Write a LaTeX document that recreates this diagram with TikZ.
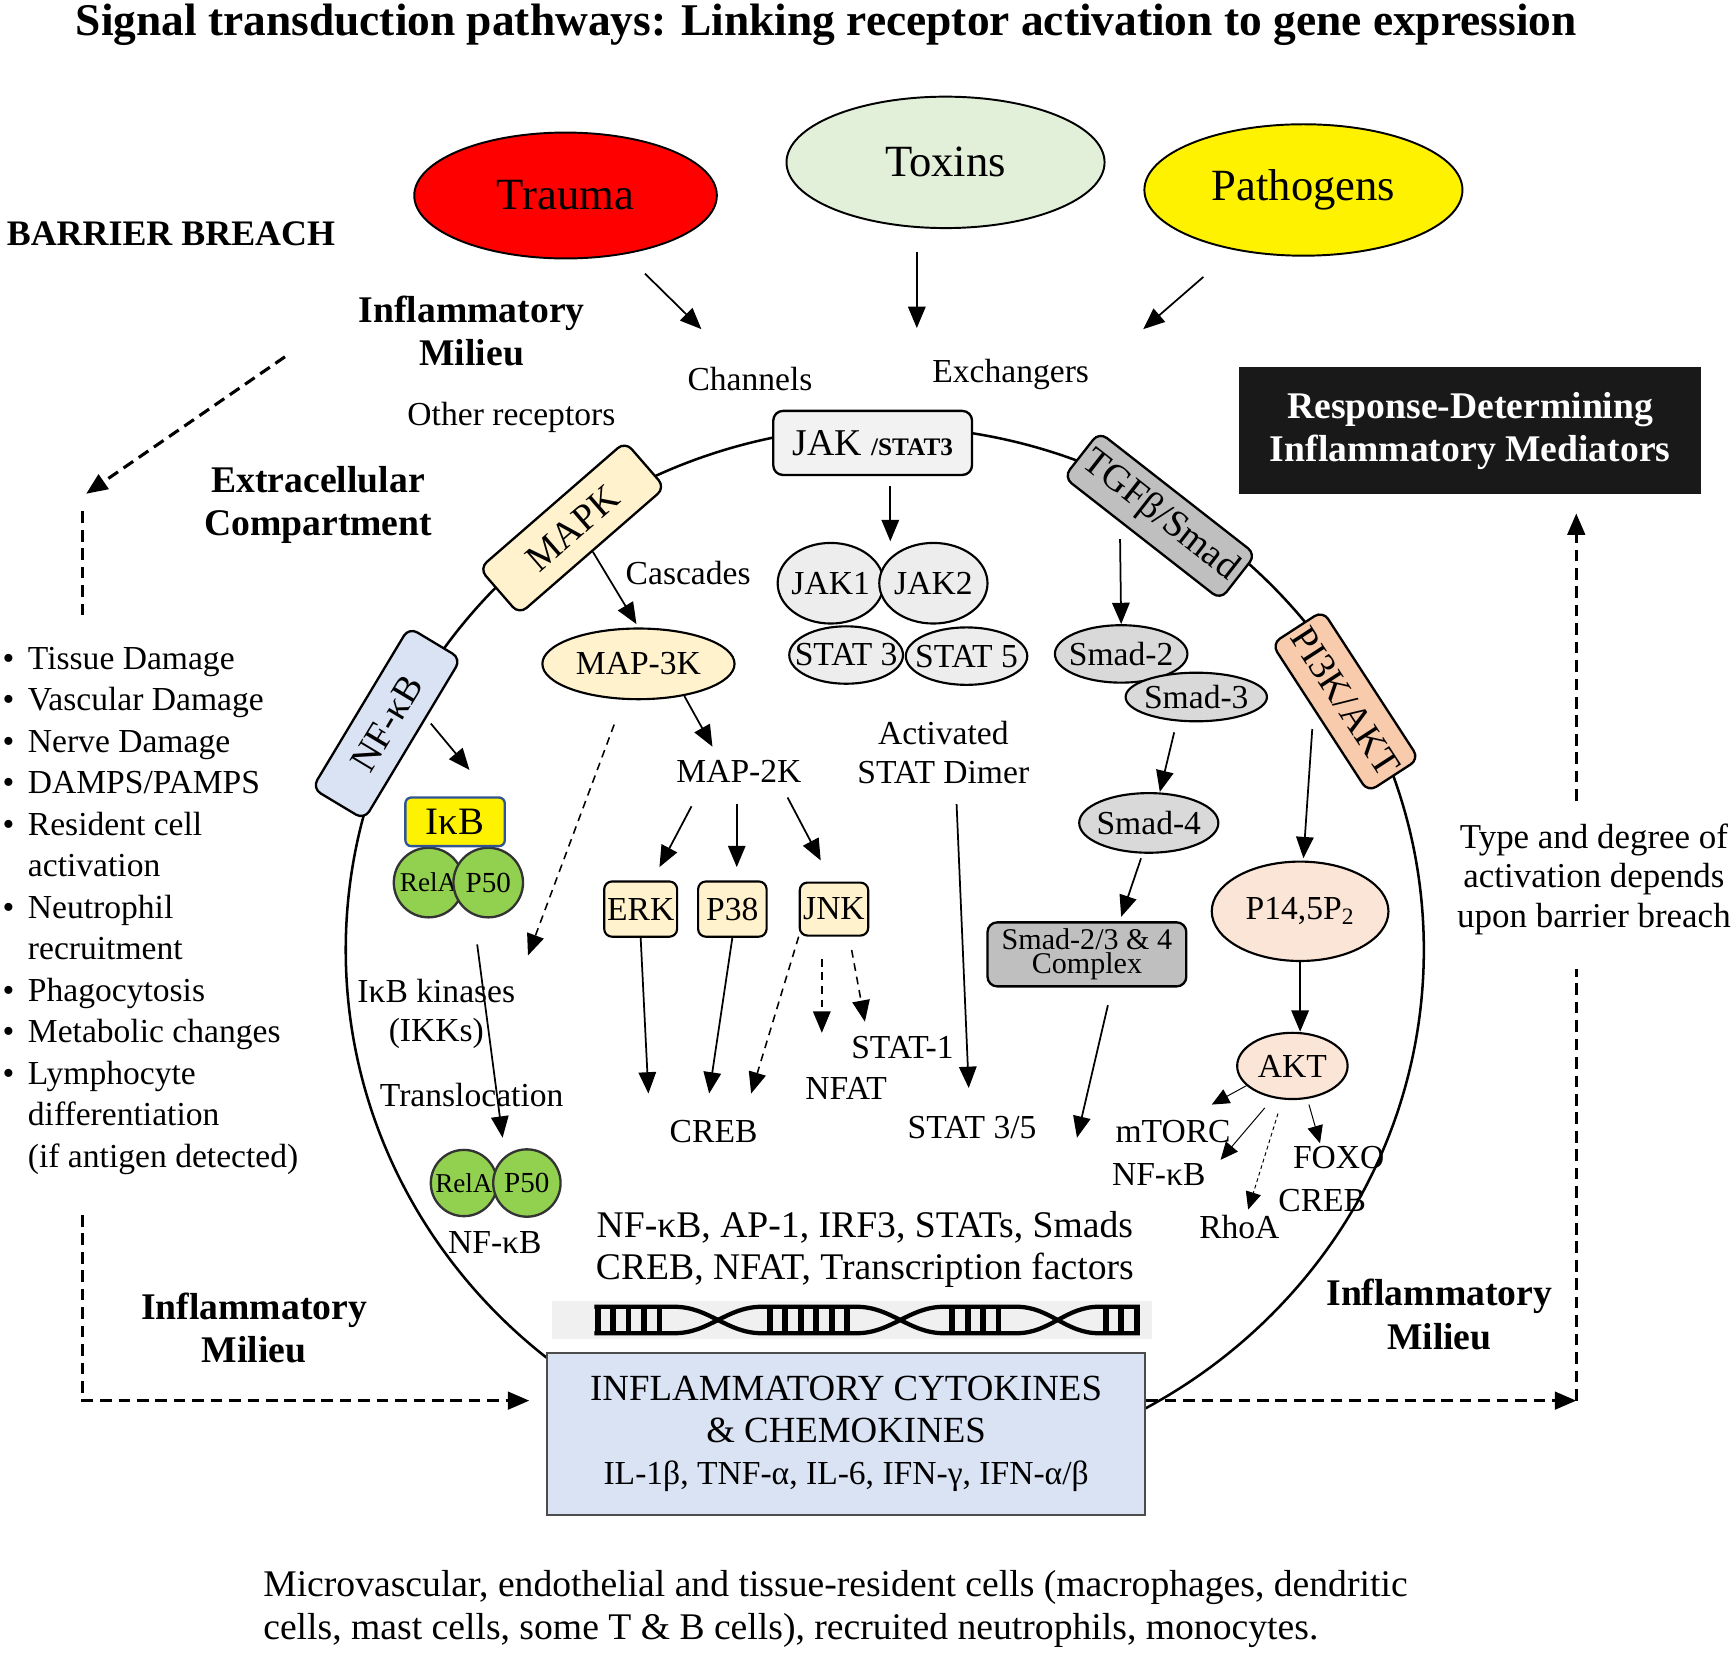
\documentclass[tikz,border=0pt]{standalone}
\usepackage{fontspec}
\setmainfont{Liberation Serif}
\usetikzlibrary{arrows.meta,shapes.geometric,positioning}
\definecolor{mapkcol}{HTML}{FFF2CC}
\definecolor{jakcol}{HTML}{F2F2F2}
\definecolor{statcol}{HTML}{EDEDED}
\definecolor{tgfcol}{HTML}{BFBFBF}
\definecolor{smadcol}{HTML}{D9D9D9}
\definecolor{pikcol}{HTML}{F8CBAD}
\definecolor{aktcol}{HTML}{FBE5D6}
\definecolor{nfkbcol}{HTML}{DAE3F3}
\definecolor{toxcol}{HTML}{E2EFD9}
\definecolor{relcol}{HTML}{92D050}
\definecolor{ikbline}{HTML}{2F5597}
\newcommand{\flatlbl}[1]{\makebox[0pt]{#1}}

\begin{document}
\begin{tikzpicture}[x=0.02cm, y=-0.02cm, >={Triangle[length=11pt,width=9pt]},
  every node/.style={font=\fontsize{17.3}{20}\selectfont},
  hdr/.style={font=\fontsize{19.4}{22.2}\selectfont\bfseries, align=center},
  stim/.style={ellipse, draw, line width=1pt, minimum width=5.76cm, minimum height=2.38cm, font=\fontsize{23}{26}\selectfont},
  recep/.style={draw, rounded corners=5pt, line width=1.2pt, minimum height=1.1cm, inner sep=2pt, font=\fontsize{19.5}{22}\selectfont},
  prot/.style={ellipse, draw, line width=1.1pt, inner sep=0pt},
  kin/.style={draw, rounded corners=4pt, line width=1.1pt, fill=mapkcol, minimum height=1cm, inner sep=1pt},
  sub/.style={circle, draw=black!80, line width=1.2pt, fill=relcol, minimum size=1.26cm, inner sep=0pt, font=\fontsize{14}{16}\selectfont},
  pw/.style={->, line width=0.9pt},
  dpw/.style={->, line width=0.8pt, dash pattern=on 4pt off 3pt},
  outer/.style={line width=1.6pt, dash pattern=on 6pt off 3.5pt},
  aktw/.style={->, line width=0.5pt, >={Triangle[length=9pt,width=8pt]}}]
\useasboundingbox (0,0) rectangle (1568,1496);

\node[anchor=base, inner sep=0pt, font=\fontsize{23.4}{26}\selectfont\bfseries] (title) at (748,32) {Signal transduction pathways: Linking receptor activation to gene expression};

% barrier breach
\node[stim, fill=red, minimum width=5.48cm, minimum height=2.28cm] (trauma) at (512,177) {Trauma};
\node[stim, fill=toxcol] (toxins) at (856,147) {Toxins};
\node[stim, fill=yellow] (pathogens) at (1180,172) {Pathogens};
\node[hdr, anchor=west, font=\fontsize{18.5}{21}\selectfont\bfseries] (breach) at (0,212) {BARRIER BREACH};
\node[hdr] (milTop) at (427,300) {Inflammatory\\Milieu};
\node[hdr] (extra) at (288,457) {Extracellular\\Compartment};
\node (chan) at (679,343) {Channels};
\node (exch) at (915,339) {Exchangers};
\node (other) at (463,378) {Other receptors};
\node[hdr, fill=black!90, text=white, minimum width=8.36cm, minimum height=2.3cm] (resp) at (1331,390) {Response-Determining\\Inflammatory Mediators};

\coordinate (chanIn) at (635,298);
\coordinate (toxIn) at (830,297);
\coordinate (exchIn) at (1035,298);
\draw[pw, shorten <=0.5cm] (trauma) -- (chanIn);
\draw[pw, shorten <=0.42cm] (toxins.south -| toxIn) -- (toxIn);
\draw[pw, shorten <=0.74cm] (pathogens) -- (exchIn);

% cell
\draw[line width=1.3pt] (801,860) ellipse [x radius=488, y radius=474];

% receptors on the membrane
\node[recep, fill=nfkbcol, rotate=59, minimum width=3.4cm] (nfkbR) at (350,655) {NF-κB};
\node[recep, fill=mapkcol, rotate=41, minimum width=3.5cm] (mapkR) at (518,478) {MAPK};
\node[recep, fill=jakcol, minimum width=3.6cm, minimum height=1.16cm] (jakR) at (790,401) {JAK {\fontsize{13}{15}\selectfont\bfseries /STAT3}};
\node[recep, fill=tgfcol, rotate=-38, minimum width=3.6cm, minimum height=1.04cm] (tgfR) at (1050,467) {TGFβ/Smad};
\node[recep, fill=pikcol, rotate=-57, minimum width=3.2cm] (pi3kR) at (1218,635) {PI3K/AKT};

% MAPK cascade
\node (casc) at (623,519) {Cascades};
\node[prot, fill=mapkcol, minimum width=3.48cm, minimum height=1.28cm] (map3k) at (578,601) {MAP-3K};
\node (map2k) at (669,698) {MAP-2K};
\node[kin, minimum width=1.32cm] (erk) at (580,823) {ERK};
\node[kin, minimum width=1.24cm] (p38) at (663,823) {P38};
\node[kin, minimum width=1.24cm, minimum height=0.96cm] (jnk) at (755,823) {JNK};
\node (creb) at (646,1024) {CREB};
\node (nfat) at (766,985) {NFAT};
\node (stat1) at (817,948) {STAT-1};

\coordinate (m2kIn) at (645,676);
\coordinate (m2kA) at (626,730); \coordinate (erkIn) at (597,785);
\coordinate (m2kB) at (667,728); \coordinate (p38In) at (667,785);
\coordinate (m2kC) at (713,722); \coordinate (jnkIn) at (743,779);
\coordinate (crebL) at (587,990); \coordinate (crebM) at (642,990); \coordinate (crebR) at (680,990);
\coordinate (jnkD1) at (744,868); \coordinate (nfatIn) at (744,935);
\coordinate (jnkD2) at (771,860); \coordinate (stat1In) at (783,925);
\draw[pw, shorten >=2pt] (mapkR.south) -- (map3k.north);
\draw[pw] (map3k.-35) -- (m2kIn);
\draw[pw] (m2kA) -- (erkIn);
\draw[pw] (m2kB) -- (p38In);
\draw[pw] (m2kC) -- (jnkIn);
\draw[pw] (erk.south) -- (crebL);
\draw[pw] (p38.south) -- (crebM);
\draw[dpw] (jnk.south west) -- (crebR);
\draw[dpw] (jnkD1) -- (nfatIn);
\draw[dpw] (jnkD2) -- (stat1In);

% JAK / STAT
\node[prot, fill=statcol, minimum width=1.92cm, minimum height=1.46cm] (jak1) at (752,528) {\flatlbl{JAK1}};
\node[prot, fill=statcol, minimum width=1.96cm, minimum height=1.46cm] (jak2) at (845,528) {\flatlbl{JAK2}};
\node[prot, fill=statcol, minimum width=2.06cm, minimum height=1.04cm] (stat3) at (766,593) {\flatlbl{STAT 3}};
\node[prot, fill=statcol, minimum width=2.2cm, minimum height=1.04cm] (stat5) at (875,594) {\flatlbl{STAT 5}};
\node[align=center] (dimer) at (854,681) {Activated\\STAT Dimer};
\node (stat35) at (880,1021) {STAT 3/5};
\coordinate (jakOut) at (806,440); \coordinate (jakIn) at (806,490);
\coordinate (dimOut) at (866,728); \coordinate (stat35In) at (877,985);
\draw[pw] (jakOut) -- (jakIn);
\draw[pw] (dimOut) -- (stat35In);

% TGF-beta / Smad
\node[prot, fill=smadcol, minimum width=2.4cm, minimum height=1.04cm] (smad2) at (1015,592) {\flatlbl{Smad-2}};
\node[prot, fill=smadcol, minimum width=2.56cm, minimum height=0.88cm] (smad3) at (1083,631) {\flatlbl{Smad-3}};
\node[prot, fill=smadcol, minimum width=2.52cm, minimum height=1.08cm] (smad4) at (1040,745) {\flatlbl{Smad-4}};
\node[draw, rounded corners=5pt, line width=1.2pt, fill=tgfcol, minimum width=3.6cm, minimum height=1.16cm, inner sep=0pt, align=center, font=\fontsize{15.5}{12.5}\selectfont] (cplx) at (984,864) {Smad-2/3 \& 4\\Complex};
\coordinate (tgfOut) at (1014,488);
\coordinate (s3Out) at (1063,663); \coordinate (smad4In) at (1050,717);
\coordinate (s4Out) at (1033,777); \coordinate (cplxIn) at (1015,830);
\coordinate (cplxOut) at (1003,910); \coordinate (cplxEnd) at (975,1030);
\draw[pw] (tgfOut) -- (smad2.north);
\draw[pw] (s3Out) -- (smad4In);
\draw[pw] (s4Out) -- (cplxIn);
\draw[pw] (cplxOut) -- (cplxEnd);

% PI3K / AKT
\node[prot, fill=aktcol, minimum width=3.2cm, minimum height=1.8cm] (pip2) at (1177,825) {P14,5P\textsubscript{2}};
\node[prot, fill=aktcol, minimum width=2cm, minimum height=1.2cm] (akt) at (1170,965) {AKT};
\node (mtorc) at (1062,1024) {mTORC};
\node (nfkbA) at (1049,1063) {NF-κB};
\node (foxo) at (1212,1048) {FOXO};
\node (crebA) at (1197,1087) {CREB};
\node (rhoa) at (1122,1111) {RhoA};
\coordinate (pikOut) at (1188,660); \coordinate (pipIn) at (1180,777);
\coordinate (aktA) at (1130,982); \coordinate (mtorcIn) at (1097,1000);
\coordinate (aktB) at (1145,1003); \coordinate (nfkbAIn) at (1105,1050);
\coordinate (aktC) at (1157,1008); \coordinate (rhoaIn) at (1130,1095);
\coordinate (aktD) at (1185,1000); \coordinate (foxoIn) at (1195,1035);
\draw[pw] (pikOut) -- (pipIn);
\draw[pw] (pip2.south) -- (pip2.south |- akt.north);
\draw[aktw] (aktA) -- (mtorcIn);
\draw[aktw] (aktB) -- (nfkbAIn);
\draw[aktw, dash pattern=on 2pt off 1.5pt] (aktC) -- (rhoaIn);
\draw[aktw] (aktD) -- (foxoIn);

% NF-kB
\node[sub] (relaA) at (388,799) {\flatlbl{RelA}};
\node[sub, font=\fontsize{15}{17}\selectfont] (p50A) at (442,799) {\flatlbl{P50}};
\node[draw=ikbline, fill=yellow, line width=1.2pt, rounded corners=3pt, minimum width=1.8cm, minimum height=0.88cm, inner sep=0pt, font=\fontsize{20}{22}\selectfont] (ikb) at (412,744) {IκB};
\node[align=center] (ikk) at (395,918) {IκB kinases\\(IKKs)};
\node (transloc) at (427,991) {Translocation};
\node[sub, minimum size=1.2cm] (relaB) at (420,1071) {\flatlbl{RelA}};
\node[sub, minimum size=1.22cm, font=\fontsize{15}{17}\selectfont] (p50B) at (477,1071) {\flatlbl{P50}};
\node (nfkbB) at (448,1125) {NF-κB};
\coordinate (nfOut) at (390,655); \coordinate (ikbIn) at (425,697);
\coordinate (m3kOut) at (556,656); \coordinate (ikkIn) at (478,865);
\coordinate (relOut) at (432,855); \coordinate (relIn) at (455,1030);
\draw[pw] (nfOut) -- (ikbIn);
\draw[dpw] (m3kOut) -- (ikkIn);
\draw[pw] (relOut) -- (relIn);

% transcription and DNA
\node[align=center, font=\fontsize{19.4}{21.6}\selectfont] (tfs) at (783,1131) {NF-κB, AP-1, IRF3, STATs, Smads\\CREB, NFAT, Transcription factors};
\fill[black!6] (500,1178) rectangle (1043,1212);
\draw[line width=2.2pt] (538,1183) -- (610,1183) to[out=0,in=180] (690,1207) -- (775,1207) to[out=0,in=180] (855,1183) -- (920,1183) to[out=0,in=180] (995,1207) -- (1032,1207);
\draw[line width=2.2pt] (538,1207) -- (610,1207) to[out=0,in=180] (690,1183) -- (775,1183) to[out=0,in=180] (855,1207) -- (920,1207) to[out=0,in=180] (995,1183) -- (1032,1183);
\foreach \x in {541,555,569,583,597,697,711,725,739,753,767,862,876,890,904,1001,1015,1029}
  \draw[line width=3pt] (\x,1183) -- (\x,1207);

\node[draw=black!70, line width=1pt, fill=nfkbcol, minimum width=10.84cm, minimum height=2.94cm, align=center, font=\fontsize{19}{21.8}\selectfont] (cyto) at (766,1298) {INFLAMMATORY CYTOKINES\\\& CHEMOKINES\\{\fontsize{17.3}{20}\selectfont IL-1β, TNF-α, IL-6, IFN-γ, IFN-α/β}};

% outside the cell
\node[anchor=north west, inner sep=0pt, font=\fontsize{17.3}{21.4}\selectfont] (list) at (2,579) {\begin{tabular}{@{}l@{\hspace{7pt}}l@{}}
\textbullet & Tissue Damage\\
\textbullet & Vascular Damage\\
\textbullet & Nerve Damage\\
\textbullet & DAMPS/PAMPS\\
\textbullet & Resident cell\\
 & activation\\
\textbullet & Neutrophil\\
 & recruitment\\
\textbullet & Phagocytosis\\
\textbullet & Metabolic changes\\
\textbullet & Lymphocyte\\
 & differentiation\\
 & (if antigen detected)
\end{tabular}};
\node[hdr] (milLeft) at (230,1202) {Inflammatory\\Milieu};
\node[hdr] (milRight) at (1303,1190) {Inflammatory\\Milieu};
\node[align=center, font=\fontsize{18}{20.2}\selectfont] (degree) at (1443,796) {Type and degree of\\activation depends\\upon barrier breach};
\node[anchor=north west, align=left, font=\fontsize{19.4}{22.2}\selectfont, inner sep=0pt] (cells) at (238,1421) {Microvascular, endothelial and tissue-resident cells (macrophages, dendritic\\cells, mast cells, some T \& B cells), recruited neutrophils, monocytes.};

\coordinate (brA) at (258,323); \coordinate (brB) at (78,447);
\coordinate (brC) at (75,463); \coordinate (brD) at (75,560);
\coordinate (lmA) at (75,1100); \coordinate (lmB) at (75,1268);
\coordinate (rmA) at (1427,1268); \coordinate (rmB) at (1427,877); \coordinate (rmC) at (1427,725);
\draw[outer, ->] (brA) -- (brB);
\draw[outer] (brC) -- (brD);
\draw[outer, ->, shorten >=0.3cm] (lmA) -- (lmB) -- (cyto.west |- lmB);
\draw[outer, ->] (cyto.east |- lmB) -- (rmA);
\draw[outer] (rmA) -- (rmB);
\draw[outer, ->, shorten >=0.34cm] (rmC) -- (rmC |- resp.south);
\end{tikzpicture}
\end{document}
